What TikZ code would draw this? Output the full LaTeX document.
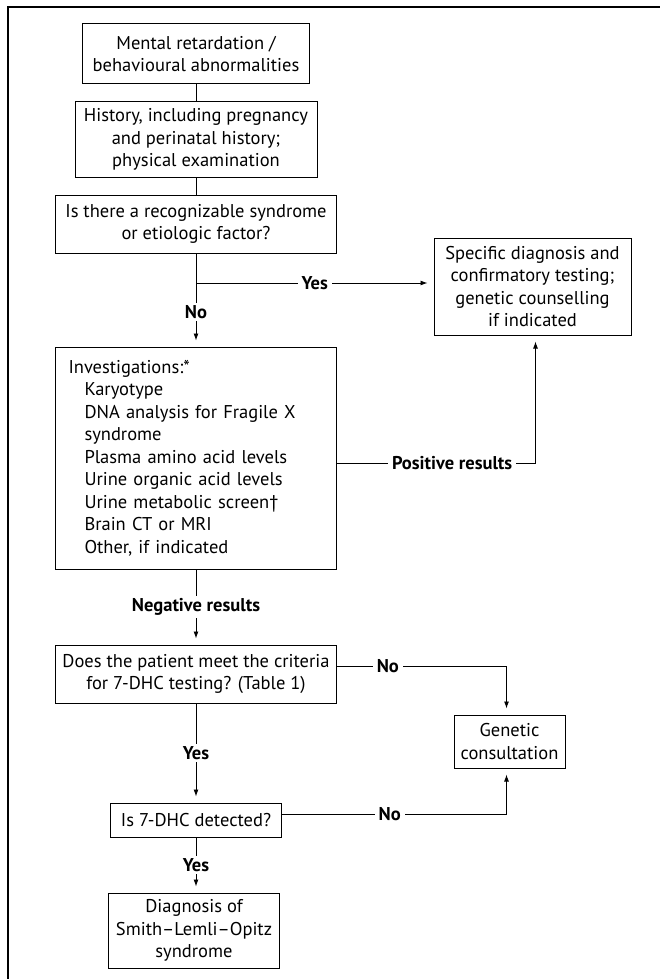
\documentclass[tikz,border=0pt]{standalone}
\usepackage{fontspec}
\setmainfont{PT Sans}
\usetikzlibrary{arrows.meta,positioning,calc}

\tikzset{
  box/.style={draw, line width=1pt, align=center, inner sep=2pt, font=\fontsize{18.5}{22.5}\selectfont},
  lbl/.style={fill=white, inner xsep=4pt, inner ysep=2pt, font=\bfseries\fontsize{18.5}{22.5}\selectfont},
  flow/.style={line width=0.9pt, -{Latex[length=7pt,width=5pt]}, shorten >=6pt},
  link/.style={line width=0.9pt}
}

\begin{document}
\begin{tikzpicture}[x=1pt, y=-1pt]
  \useasboundingbox (0,0) rectangle (660,979);
  % frame
  \draw[line width=1.2pt] (660,7) -- (8,7) -- (8,979);
  % main column
  \node[box, minimum width=227pt, minimum height=60pt] (mr) at (196,54) {Mental retardation /\\behavioural abnormalities};
  \node[box, minimum width=242pt, minimum height=75pt] (hist) at (196,139.5) {History, including pregnancy\\and perinatal history;\\physical examination};
  \node[box, minimum width=281pt, minimum height=58pt] (syn) at (196,224) {Is there a recognizable syndrome\\or etiologic factor?};
  \node[box, align=left, text width=255pt, inner xsep=13pt, minimum height=222pt] (inv) at (196,458)
    {Investigations:*\\
     \hspace*{16pt}Karyotype\\
     \hspace*{16pt}DNA analysis for Fragile X\\
     \hspace*{16pt}syndrome\\
     \hspace*{16pt}Plasma amino acid levels\\
     \hspace*{16pt}Urine organic acid levels\\
     \hspace*{16pt}Urine metabolic screen†\\
     \hspace*{16pt}Brain CT or MRI\\
     \hspace*{16pt}Other, if indicated};
  \node[box, minimum width=281pt, minimum height=58pt] (crit) at (196,674) {Does the patient meet the criteria\\for 7-DHC testing? (Table 1)};
  \node[box, minimum width=171pt, minimum height=34pt] (dhc) at (196,820) {Is 7-DHC detected?};
  \node[box, minimum width=171pt, minimum height=75pt] (diag) at (194,930.5) {Diagnosis of\\Smith–Lemli–Opitz\\syndrome};
  % side boxes
  \node[box, minimum width=197pt, minimum height=97pt] (spec) at (532.5,286.5) {Specific diagnosis and\\confirmatory testing;\\genetic counselling\\if indicated};
  \node[box, minimum width=111pt, minimum height=53pt] (gen) at (509.5,741.5) {Genetic\\consultation};
  \coordinate (yj) at (196,283);

  % connectors
  \draw[link] (mr) -- (hist);
  \draw[link] (hist) -- (syn);
  \draw[flow] (syn) -- node[lbl, pos=0.63]{No} (inv);
  \draw[flow] (yj) -- node[lbl]{Yes} (yj -| spec.west);
  \draw[flow] ([yshift=-5pt]inv.east) -| node[lbl, pos=0.29]{Positive results} ([xshift=3pt]spec.south);
  \draw[flow] (inv) -- node[lbl]{Negative results} (crit);
  \draw[flow] ([yshift=8pt]crit.east) -| node[lbl, pos=0.15]{No} ([xshift=-3pt]gen.north);
  \draw[flow] (crit) -- node[lbl]{Yes} (dhc.north);
  \draw[flow] ([yshift=6pt]dhc.east) -| node[lbl, pos=0.24]{No} ([xshift=-3pt]gen.south);
  \draw[flow] (dhc.south) -- node[lbl]{Yes} (dhc.south |- diag.north);
\end{tikzpicture}
\end{document}
